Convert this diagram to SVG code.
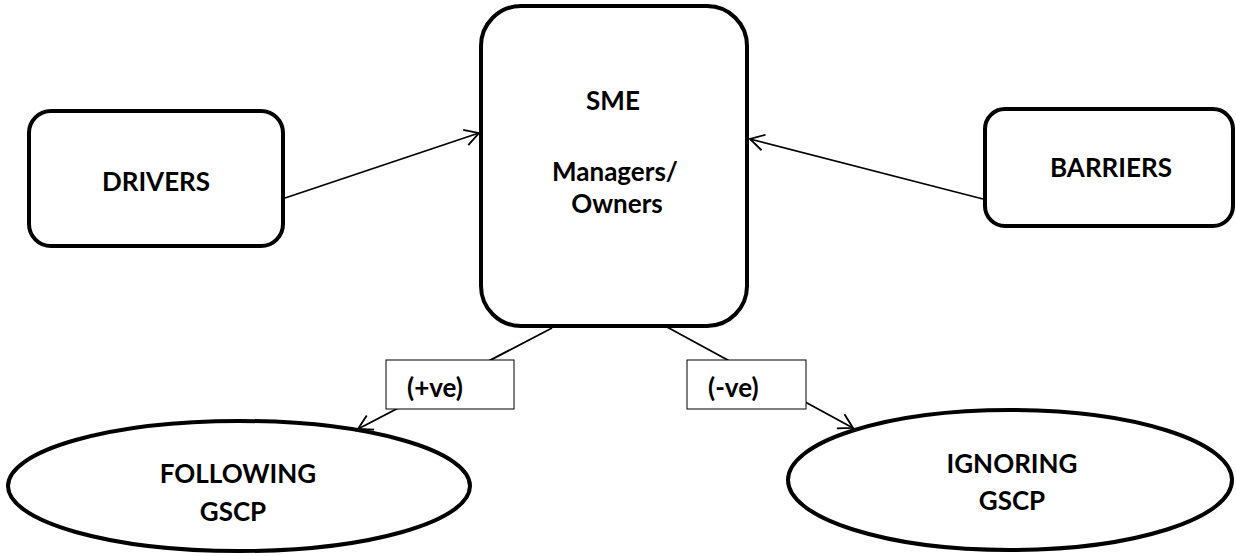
<svg xmlns="http://www.w3.org/2000/svg" width="1236" height="556" viewBox="0 0 1236 556">
  <style>
    .node { fill: #ffffff; stroke: #000000; stroke-width: 4; }
    .conn { stroke: #000000; stroke-width: 1.8; fill: none; }
    .lbl { fill: #ffffff; stroke: #000000; stroke-width: 1; }
    text { font-family: Lato, "Liberation Sans", Arial, sans-serif; font-weight: bold; font-size: 26px; fill: #000000; }
    .c { text-anchor: middle; }
  </style>
  <defs>
    <marker id="arrow" markerUnits="userSpaceOnUse" markerWidth="20" markerHeight="20" viewBox="-16 -10 20 20" refX="0" refY="0" orient="auto">
      <path d="M-14,-8 L0,0 L-14,8" fill="none" stroke="#000000" stroke-width="1.8"/>
    </marker>
  </defs>
  <rect width="1236" height="556" fill="#ffffff"/>

  <g id="connectors">
    <line class="conn" x1="285" y1="198" x2="479" y2="133" marker-end="url(#arrow)"/>
    <line class="conn" x1="983" y1="199" x2="750" y2="139" marker-end="url(#arrow)"/>
    <line class="conn" x1="552" y1="328" x2="358" y2="429" marker-end="url(#arrow)"/>
    <line class="conn" x1="667" y1="327" x2="853" y2="428" marker-end="url(#arrow)"/>
    <g id="label-pos">
      <rect class="lbl" x="386" y="360" width="128" height="49"/>
      <text x="407" y="397">(+ve)</text>
    </g>
    <g id="label-neg">
      <rect class="lbl" x="687" y="360" width="119" height="49"/>
      <text x="708" y="397">(-ve)</text>
    </g>
  </g>

  <g id="drivers">
    <rect class="node" x="29" y="111" width="254" height="135" rx="22" ry="22"/>
    <text class="c" x="156" y="191">DRIVERS</text>
  </g>

  <g id="sme">
    <rect class="node" x="481" y="6" width="266" height="320" rx="40" ry="40"/>
    <text class="c" x="613" y="110">SME</text>
    <text class="c" x="615" y="181">Managers/</text>
    <text class="c" x="617" y="213">Owners</text>
  </g>

  <g id="barriers">
    <rect class="node" x="985" y="109" width="248" height="117" rx="20" ry="20"/>
    <text class="c" x="1111" y="177">BARRIERS</text>
  </g>

  <g id="following">
    <ellipse class="node" cx="239" cy="486" rx="231" ry="65"/>
    <text class="c" x="238" y="483">FOLLOWING</text>
    <text class="c" x="233" y="521">GSCP</text>
  </g>

  <g id="ignoring">
    <ellipse class="node" cx="1010" cy="480" rx="222" ry="70"/>
    <text class="c" x="1012" y="473">IGNORING</text>
    <text class="c" x="1012" y="510">GSCP</text>
  </g>
</svg>
